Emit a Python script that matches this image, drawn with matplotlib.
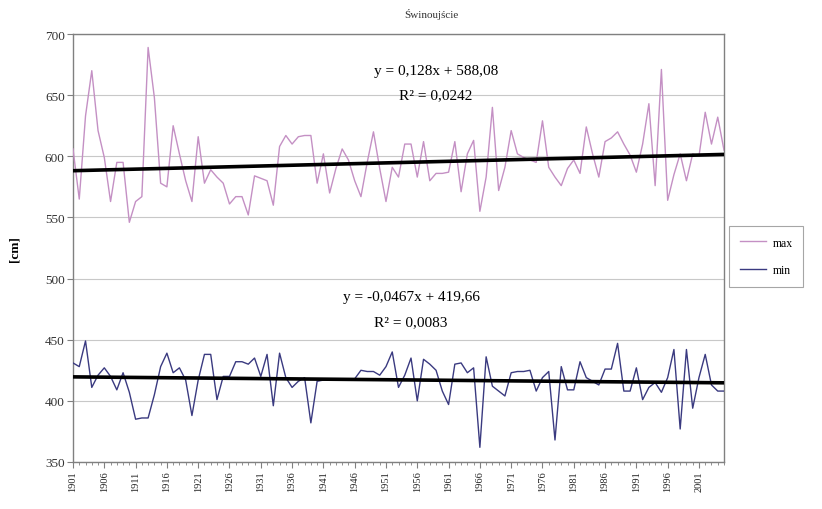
import numpy as np
import matplotlib
matplotlib.use("Agg")
import matplotlib.pyplot as plt

years = list(range(1901, 2006))

max_values = [
    606, 565, 633, 670, 621, 599, 563, 595, 595, 546,
    563, 567, 689, 648, 578, 575, 625, 602, 580, 563,
    616, 578, 589, 583, 578, 561, 567, 567, 552, 584,
    582, 580, 560, 608, 617, 610, 616, 617, 617, 578,
    602, 570, 590, 606, 597, 580, 567, 595, 620, 590,
    563, 591, 583, 610, 610, 583, 612, 580, 586, 586,
    587, 612, 571, 602, 613, 555, 583, 640, 572, 591,
    621, 602, 599, 597, 595, 629, 591, 583, 576, 590,
    597, 586, 624, 602, 583, 612, 615, 620, 610, 601,
    587, 610, 643, 576, 671, 564, 585, 602, 580, 602,
    600, 636, 610, 632, 605,
]

min_values = [
    431, 428, 449, 411, 421, 427, 420, 409, 423, 407,
    385, 386, 386, 405, 428, 439, 423, 427, 417, 388,
    417, 438, 438, 401, 420, 420, 432, 432, 430, 435,
    420, 438, 396, 439, 419, 411, 416, 419, 382, 416,
    417, 417, 417, 417, 417, 418, 425, 424, 424, 421,
    428, 440, 411, 421, 435, 400, 434, 430, 425, 408,
    397, 430, 431, 423, 427, 362, 436, 412, 408, 404,
    423, 424, 424, 425, 408, 419, 424, 368, 428, 409,
    409, 432, 419, 416, 413, 426, 426, 447, 408, 408,
    427, 401, 411, 415, 407, 419, 442, 377, 442, 394,
    419, 438, 413, 408, 408,
]

series_names = ["max", "min"]
trend_slopes = [0.128, -0.0467]
trend_intercepts = [588.08, 419.66]
trend_labels = [("y = 0,128x + 588,08", "R² = 0,0242"),
                ("y = -0,0467x + 419,66", "R² = 0,0083")]
title_text = "Świnoujście"
ylabel_text = "[cm]"
yticks = [350, 400, 450, 500, 550, 600, 650, 700]
xtick_years = list(range(1901, 2006, 5))

plt.rcParams['font.family'] = ['Liberation Serif', 'DejaVu Serif']

fig = plt.figure(figsize=(8.22, 5.10), dpi=100)
ax = fig.add_axes([73/822, 1-463/510, (724-73)/822, (463-35)/510])

yrs = np.array(years)
ax.plot(yrs, max_values, color="#c490c4", lw=1.0, label=series_names[0], zorder=3)
ax.plot(yrs, min_values, color="#3a3a80", lw=1.0, label=series_names[1], zorder=3)

for a, b in zip(trend_slopes, trend_intercepts):
    xs = yrs - 1900
    ax.plot(yrs, a * xs + b, color="black", lw=2.6, zorder=4)

ax.set_xlim(1901, 2005)
ax.set_ylim(350, 700)
ax.set_yticks(yticks)
ax.set_yticklabels([str(v) for v in yticks], fontsize=9.5, color="#333333")
ax.set_xticks(xtick_years)
ax.set_xticklabels([str(v) for v in xtick_years], rotation=90, fontsize=7.5, color="#222222")
ax.set_xticks(years, minor=True)
ax.tick_params(axis='x', which='major', length=4, color="#808080", pad=2)
ax.tick_params(axis='x', which='minor', length=2, color="#808080")
ax.tick_params(axis='y', length=4, color="#808080", pad=2)
ax.grid(axis='y', color="#c8c8c8", lw=0.8, zorder=0)
for s in ax.spines.values():
    s.set_color("#808080")
    s.set_linewidth(1.0)

ax.set_ylabel(ylabel_text, fontsize=9.5, fontweight='bold')
ax.yaxis.set_label_coords(-0.08, 0.5)

fig.text(431/822, 1-15/510, title_text, ha='center', va='center', fontsize=8, color="#333333")

# trend equations
ax.text(1959, 670, trend_labels[0][0], ha='center', va='center', fontsize=11)
ax.text(1959, 650, trend_labels[0][1], ha='center', va='center', fontsize=11)
ax.text(1955, 485, trend_labels[1][0], ha='center', va='center', fontsize=11)
ax.text(1955, 465, trend_labels[1][1], ha='center', va='center', fontsize=11)

leg = fig.legend(loc='upper left', bbox_to_anchor=(723/822, 1-221/510),
                 frameon=True, fancybox=False, fontsize=8.5, handlelength=2.2,
                 borderpad=0.9, labelspacing=1.3, handletextpad=0.6)
leg.get_frame().set_edgecolor("#909090")
leg.get_frame().set_linewidth(0.8)

fig.savefig("out.png", dpi=100)
